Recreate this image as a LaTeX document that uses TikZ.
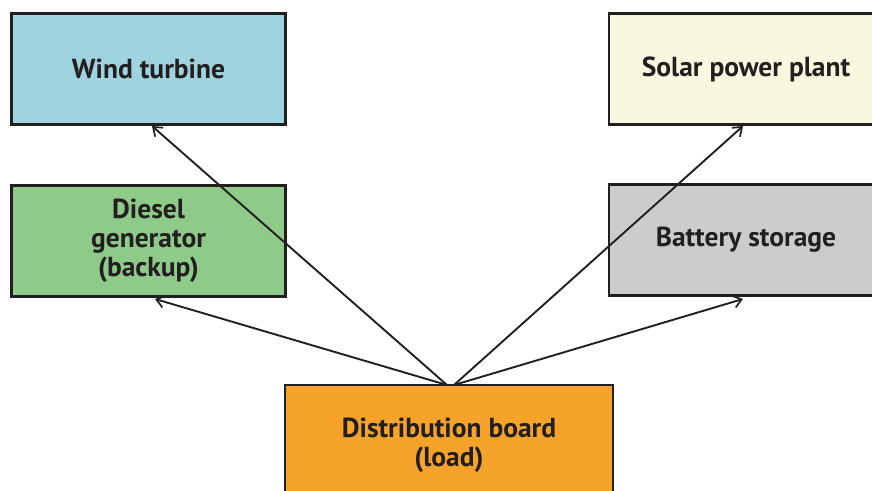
\documentclass[tikz,border=0pt]{standalone}
\usepackage{fontspec}
\setmainfont{PT Sans}
\usetikzlibrary{arrows.meta}
\definecolor{ink}{HTML}{231F20}
\definecolor{windfill}{HTML}{9FD3E0}
\definecolor{solarfill}{HTML}{F8F8DE}
\definecolor{dieselfill}{HTML}{8ECB88}
\definecolor{batteryfill}{HTML}{CBCCCB}
\definecolor{loadfill}{HTML}{F6A32B}
\tikzset{
  unitbox/.style={draw=ink, line width=2.4pt, minimum width=274pt, minimum height=111pt,
    inner sep=0pt, align=center, text=ink,
    font=\fontsize{27.5}{29}\selectfont\bfseries},
  feed/.style={draw=ink, line width=1.9pt, -{Straight Barb[length=8pt,width=12pt,line width=1.7pt]}}
}
\begin{document}
\begin{tikzpicture}[x=1pt,y=-1pt]
  \useasboundingbox (0,0) rectangle (872,490);
  \clip (0,0) rectangle (872,490);
  % supply boxes
  \node[unitbox, fill=windfill] (wind) at (148.5,69) {Wind turbine};
  \node[unitbox, fill=solarfill] (solar) at (746,69) {Solar power plant};
  \node[unitbox, fill=dieselfill] (diesel) at (148.5,241) {Diesel\\generator\\(backup)};
  \node[unitbox, fill=batteryfill] (battery) at (746,240) {Battery storage};
  % load box
  \node[unitbox, fill=loadfill, minimum width=328pt, minimum height=120pt] (load) at (449,445)
    {Distribution board\\(load)};
  % feed points on top of the load box
  \coordinate (feedL) at (447,385);
  \coordinate (feedR) at (454,385);
  \coordinate (tipW) at (152,126);
  \coordinate (tipS) at (743,126);
  \coordinate (tipD) at (155,299);
  \coordinate (tipB) at (743,299);
  \draw[feed] (feedL) -- (tipW);
  \draw[feed] (feedL) -- (tipD);
  \draw[feed] (feedR) -- (tipS);
  \draw[feed] (feedR) -- (tipB);
\end{tikzpicture}
\end{document}
